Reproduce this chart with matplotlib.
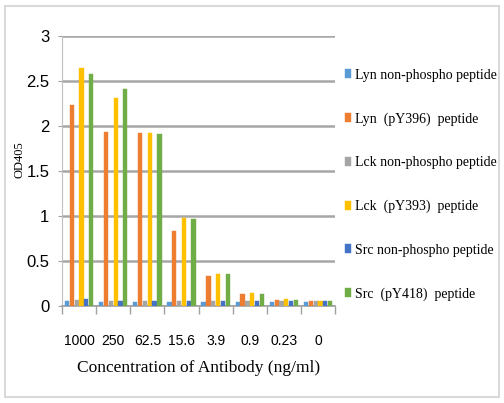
import matplotlib.pyplot as plt
import numpy as np

concentrations = ['1000', '250', '62.5', '15.6', '3.9', '0.9', '0.23', '0']
series_names = ['Lyn non-phospho peptide', 'Lyn  (pY396)  peptide',
                'Lck non-phospho peptide', 'Lck  (pY393)  peptide',
                'Src non-phospho peptide', 'Src  (pY418)  peptide']

lyn_non = [0.05, 0.04, 0.04, 0.04, 0.04, 0.04, 0.04, 0.04]
lyn_py396 = [2.23, 1.93, 1.92, 0.83, 0.33, 0.13, 0.07, 0.05]
lck_non = [0.07, 0.05, 0.05, 0.05, 0.05, 0.05, 0.05, 0.05]
lck_py393 = [2.64, 2.31, 1.92, 0.98, 0.35, 0.14, 0.08, 0.05]
src_non = [0.08, 0.05, 0.05, 0.05, 0.05, 0.05, 0.05, 0.05]
src_py418 = [2.58, 2.41, 1.91, 0.96, 0.35, 0.13, 0.07, 0.05]

colors = ['#5B9BD5', '#ED7D31', '#A5A5A5', '#FFC000', '#4472C4', '#70AD47']

data = [lyn_non, lyn_py396, lck_non, lck_py393, src_non, src_py418]

fig = plt.figure(figsize=(5.04, 4.03), dpi=100)
# light frame round the whole picture
fig.patches.append(plt.Rectangle((0.01, 0.015), 0.98, 0.97, transform=fig.transFigure,
                                 fill=False, edgecolor='#d9d9d9', linewidth=1.5))
ax = fig.add_axes([0.123, 0.241, 0.542, 0.67])

x = np.arange(len(concentrations))
step = 0.142
width = 0.125
for i, (vals, name, c) in enumerate(zip(data, series_names, colors)):
    ax.bar(x + (i - 2.5) * step, vals, width=width, color=c, label=name,
           edgecolor=c, linewidth=0.3, zorder=3)

ax.set_xlim(-0.5, len(concentrations) - 0.5)
ax.set_ylim(0, 3)
ax.set_yticks(np.arange(0, 3.01, 0.5))
ax.set_yticklabels(['0', '0.5', '1', '1.5', '2', '2.5', '3'],
                   family='Liberation Sans', fontsize=12)
ax.set_xticks(x)
ax.set_xticklabels(concentrations, family='Liberation Sans', fontsize=10)
ax.set_xticks(np.arange(-0.5, len(concentrations), 1), minor=True)
ax.tick_params(axis='x', which='major', length=0, pad=20)
ax.tick_params(axis='x', which='minor', length=6, color='#a0a0a0', width=1)
ax.tick_params(axis='y', length=3, color='#a0a0a0', pad=6)

ax.grid(axis='y', color='#a6a6a6', linewidth=1.8, zorder=0)
for s in ['top', 'right']:
    ax.spines[s].set_visible(False)
ax.spines['left'].set_color('#bfbfbf')
ax.spines['bottom'].set_color('#a0a0a0')
ax.spines['bottom'].set_linewidth(1.2)

ax.set_ylabel('OD405', family='Liberation Serif', fontsize=9)
ax.yaxis.set_label_coords(-0.135, 0.54)
ax.set_xlabel('Concentration of Antibody (ng/ml)', family='Liberation Serif', fontsize=12.5, labelpad=9)

leg = ax.legend(loc='upper left', bbox_to_anchor=(1.0, 0.915), frameon=False,
                prop={'family': 'Liberation Serif', 'size': 10},
                handlelength=0.45, handleheight=0.6, handletextpad=0.25,
                labelspacing=2.2, borderaxespad=0.3)

plt.savefig('out.png', dpi=100)
